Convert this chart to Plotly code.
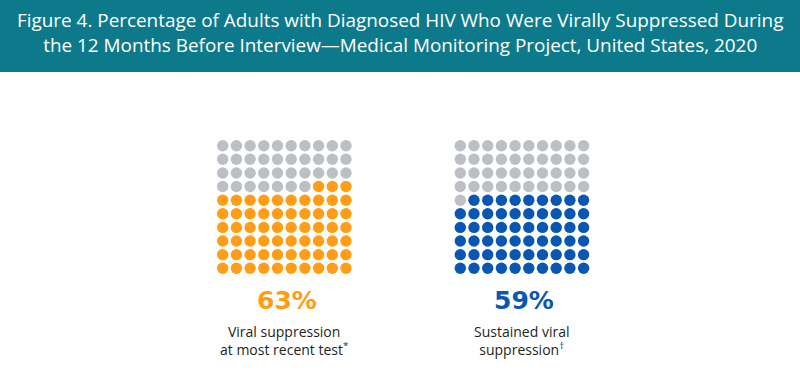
import plotly.graph_objects as go

# ---- data ----
categories = ["Viral suppression<br>at most recent test<sup>*</sup>",
              "Sustained viral<br>suppression<sup>†</sup>"]
values = [63, 59]
value_labels = ["63%", "59%"]
colors = ["#FF9E16", "#0A57B3"]
title_lines = ["Figure 4. Percentage of Adults with Diagnosed HIV Who Were Virally Suppressed During",
               "the 12 Months Before Interview\u2014Medical Monitoring Project, United States, 2020"]

# ---- layout constants (pixel-like coordinate system) ----
W, H = 800, 378
GRID_LEFT = [222.7, 460.3]
GRID_TOP = 145.7
STEP_X = 13.7
STEP_Y = 13.62
GRAY = "#BCBFC4"
TEAL = "#0D7A8B"
FONT = "Open Sans"

fig = go.Figure()

for gi, (val, col) in enumerate(zip(values, colors)):
    xs, ys, cs = [], [], []
    for k in range(100):
        row_from_bottom = k // 10
        col_idx = 9 - (k % 10)
        xs.append(GRID_LEFT[gi] + col_idx * STEP_X)
        ys.append(GRID_TOP + (9 - row_from_bottom) * STEP_Y)
        cs.append(col if k < val else GRAY)
    fig.add_trace(go.Scatter(x=xs, y=ys, mode="markers",
                             marker=dict(size=11.4, color=cs, line=dict(width=0)),
                             hoverinfo="skip", showlegend=False))

    cx = GRID_LEFT[gi] + 4.5 * STEP_X
    fig.add_annotation(x=cx + 2.5, y=300, text="<b>" + value_labels[gi] + "</b>",
                       showarrow=False, xanchor="center", yanchor="middle",
                       font=dict(family="DejaVu Sans", size=25, color=col))
    fig.add_annotation(x=cx, y=340, text=categories[gi],
                       showarrow=False, xanchor="center", yanchor="middle",
                       font=dict(family=FONT, size=14, color="#231F20"))

# header banner
fig.add_shape(type="rect", xref="paper", yref="paper", x0=0, x1=1,
              y0=1 - 72 / H, y1=1, fillcolor=TEAL, line=dict(width=0), layer="below")
fig.add_annotation(x=400, y=32, text="<br>".join(title_lines), showarrow=False,
                   xanchor="center", yanchor="middle",
                   font=dict(family=FONT, size=18.9, color="white"))

fig.update_xaxes(range=[0, W], visible=False, fixedrange=True)
fig.update_yaxes(range=[H, 0], visible=False, fixedrange=True)
fig.update_layout(width=W, height=H, margin=dict(l=0, r=0, t=0, b=0),
                  paper_bgcolor="white", plot_bgcolor="white")

fig.write_html("out.html", config={"displayModeBar": False},
               post_script="document.body.style.margin='0';document.body.style.overflow='hidden';")
